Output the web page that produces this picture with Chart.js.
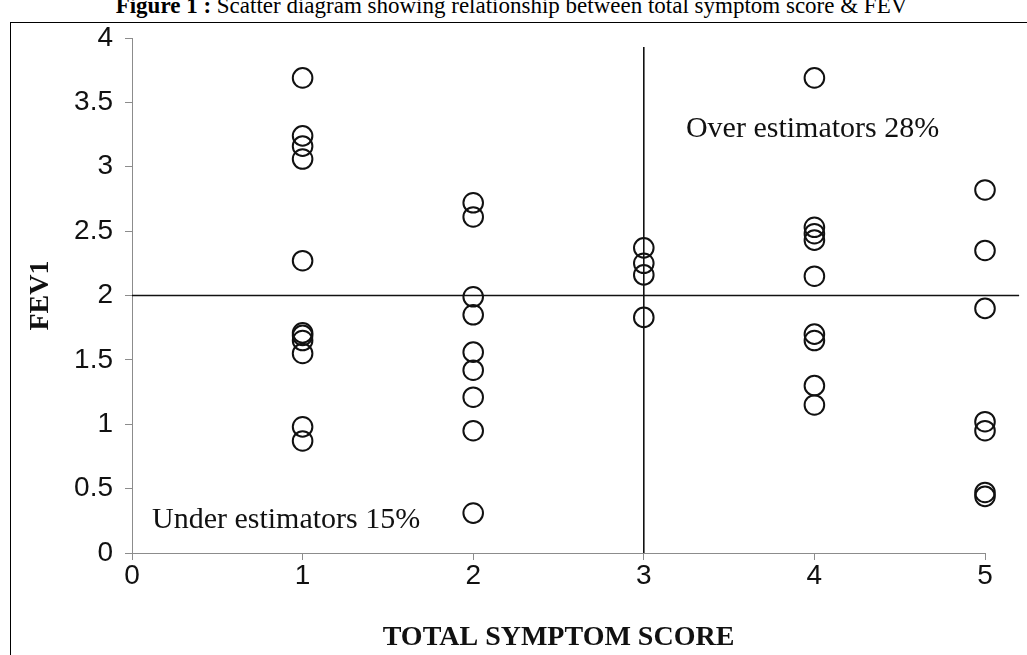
<!DOCTYPE html>
<html>
<head>
<meta charset="utf-8">
<script src="https://cdn.jsdelivr.net/npm/chart.js@4.4.1/dist/chart.umd.min.js"></script>
<style>
  html, body { margin: 0; padding: 0; background: #fff; width: 1027px; height: 655px; overflow: hidden; }
  #caption {
    position: absolute; left: -2px; top: -6px; width: 1027px; text-align: center;
    font: 23px "Liberation Serif", serif; line-height: 23px; color: #000; white-space: nowrap;
  }
  #frame {
    position: absolute; left: 10px; top: 22px; width: 1030px; height: 640px;
    border-left: 1px solid #000; border-top: 1px solid #000;
  }
  #wrap { position: absolute; left: 0; top: 0; width: 1027px; height: 655px; }
</style>
</head>
<body>
<div id="caption"><b>Figure 1 :</b> Scatter diagram showing relationship between total symptom score &amp; FEV</div>
<div id="frame"></div>
<div id="wrap"><canvas id="chart" width="1027" height="655"></canvas></div>
<script>
// Total symptom score categories and the FEV1 readings recorded for each score
const symptomScores = [1, 2, 3, 4, 5];
const fevScore1 = [3.69, 3.24, 3.16, 3.06, 2.27, 1.71, 1.69, 1.65, 1.55, 0.98, 0.87];
const fevScore2 = [2.72, 2.61, 1.99, 1.85, 1.56, 1.42, 1.21, 0.95, 0.31];
const fevScore3 = [2.37, 2.25, 2.16, 1.83];
const fevScore4 = [3.69, 2.53, 2.48, 2.43, 2.15, 1.70, 1.65, 1.30, 1.15];
const fevScore5 = [2.82, 2.35, 1.90, 1.02, 0.95, 0.47, 0.44];

// Axis tick labels
const xTickLabels = ['0', '1', '2', '3', '4', '5'];
const yTickLabels = ['0', '0.5', '1', '1.5', '2', '2.5', '3', '3.5', '4'];

// Quadrant divider lines: FEV1 = 2 across, score = 3 upward
const fevCutoff = [{ x: 0, y: 2 }, { x: 5.2, y: 2 }];
const scoreCutoff = [{ x: 3, y: 0 }, { x: 3, y: 3.93 }];

// Quadrant notes
const quadrantNotes = [
  { text: 'Over estimators 28%', x: 3.247, y: 3.29 },
  { text: 'Under estimators 15%', x: 0.117, y: 0.257 }
];

const fevByScore = [fevScore1, fevScore2, fevScore3, fevScore4, fevScore5];
const scatterPoints = [];
symptomScores.forEach((s, i) => {
  fevByScore[i].forEach(v => scatterPoints.push({ x: s, y: v }));
});

const serif = '"Liberation Serif", "Times New Roman", serif';
const sans = '"Liberation Sans", Arial, sans-serif';

const quadrantNotesPlugin = {
  id: 'quadrantNotes',
  afterDatasetsDraw(chart) {
    const { ctx, scales } = chart;
    ctx.save();
    ctx.fillStyle = '#111';
    ctx.font = '30px ' + serif;
    ctx.textAlign = 'left';
    ctx.textBaseline = 'middle';
    quadrantNotes.forEach(n => {
      ctx.fillText(n.text, scales.x.getPixelForValue(n.x), scales.y.getPixelForValue(n.y));
    });
    ctx.restore();
  }
};

new Chart(document.getElementById('chart'), {
  type: 'scatter',
  data: {
    datasets: [
      {
        label: 'FEV1',
        data: scatterPoints,
        pointStyle: 'circle',
        pointRadius: 9.8,
        pointBorderWidth: 2,
        borderColor: '#111',
        backgroundColor: 'rgba(0,0,0,0)',
        pointBackgroundColor: 'rgba(0,0,0,0)',
        clip: false
      },
      {
        type: 'line',
        label: 'FEV1 cut-off',
        data: fevCutoff,
        borderColor: '#111',
        borderWidth: 1.6,
        pointRadius: 0,
        fill: false,
        clip: false
      },
      {
        type: 'line',
        label: 'Score cut-off',
        data: scoreCutoff,
        borderColor: '#111',
        borderWidth: 1.6,
        pointRadius: 0,
        fill: false,
        clip: false
      }
    ]
  },
  options: {
    responsive: false,
    animation: false,
    events: [],
    layout: { padding: { left: 0, top: 38, right: 42, bottom: 0 } },
    plugins: {
      legend: { display: false },
      tooltip: { enabled: false },
      title: { display: false }
    },
    scales: {
      x: {
        type: 'linear',
        min: 0,
        max: 5,
        afterFit(scale) { scale.height = 102; },
        ticks: {
          stepSize: 1,
          padding: 2,
          color: '#111',
          font: { family: sans, size: 28, lineHeight: 1 },
          callback: (v, i) => xTickLabels[i]
        },
        grid: { drawOnChartArea: false, drawTicks: true, tickLength: 7, color: '#8c8c8c' },
        border: { display: true, color: '#8c8c8c', width: 1 },
        title: {
          display: true,
          text: 'TOTAL SYMPTOM SCORE',
          color: '#111',
          font: { family: serif, size: 28, weight: 'bold', lineHeight: 1 },
          padding: { top: 0, bottom: 3 }
        }
      },
      y: {
        type: 'linear',
        min: 0,
        max: 4,
        afterFit(scale) { scale.width = 132; },
        ticks: {
          stepSize: 0.5,
          padding: 12,
          color: '#111',
          font: { family: sans, size: 28, lineHeight: 1 },
          callback: (v, i) => yTickLabels[i]
        },
        grid: { drawOnChartArea: false, drawTicks: true, tickLength: 7, color: '#8c8c8c' },
        border: { display: true, color: '#8c8c8c', width: 1 },
        title: {
          display: true,
          text: 'FEV1',
          color: '#111',
          font: { family: serif, size: 28, weight: 'bold', lineHeight: 1 },
          padding: { top: 27, bottom: 0 }
        }
      }
    }
  },
  plugins: [quadrantNotesPlugin]
});
</script>
</body>
</html>
